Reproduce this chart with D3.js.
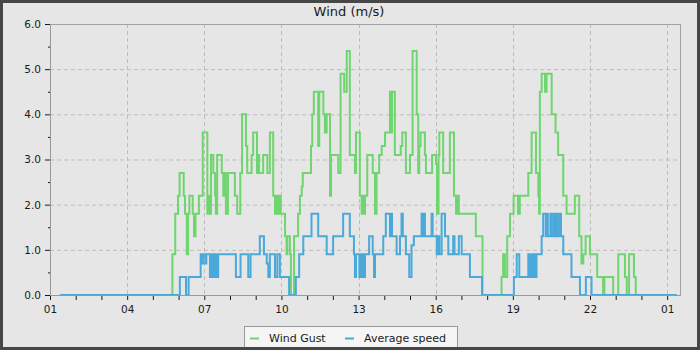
<!DOCTYPE html>
<html>
<head>
<meta charset="utf-8">
<script src="https://cdn.jsdelivr.net/npm/d3@7"></script>
<style>
html,body{margin:0;padding:0;background:#474747;}
svg{display:block;}
text{font-family:"DejaVu Sans",sans-serif;fill:#1a1a1a;}
</style>
</head>
<body>
<svg id="chart" width="700" height="350"></svg>
<script>
// ---- data (time in hours from 00:00 of day 1; step changes) ----
const title = "Wind (m/s)";
const seriesNames = ["Wind Gust", "Average speed"];
const xTickHours = [1, 4, 7, 10, 13, 16, 19, 22, 25];
const xTickLabels = ["01", "04", "07", "10", "13", "16", "19", "22", "01"];
const yTicks = [0, 1, 2, 3, 4, 5, 6];
const yTickLabels = ["0.0", "1.0", "2.0", "3.0", "4.0", "5.0", "6.0"];

const gustTimes = [1.39,5.76,5.87,5.98,6.04,6.20,6.25,6.32,6.37,6.42,6.55,6.60,6.66,6.79,6.94,7.12,7.15,7.19,7.26,7.35,7.42,7.45,7.50,7.68,7.74,7.77,7.84,7.92,8.19,8.28,8.40,8.47,8.62,8.67,8.84,8.90,9.05,9.09,9.13,9.29,9.45,9.55,9.68,9.75,9.80,9.86,9.90,9.97,10.14,10.20,10.23,10.33,10.37,10.49,10.65,10.72,10.79,10.83,11.15,11.20,11.26,11.43,11.47,11.63,11.69,11.76,11.89,11.93,12.21,12.30,12.44,12.54,12.66,12.86,12.90,13.05,13.12,13.17,13.20,13.25,13.34,13.55,13.64,13.70,13.80,13.90,14.03,14.22,14.26,14.30,14.41,14.64,14.70,14.84,15.00,15.10,15.26,15.32,15.36,15.41,15.58,15.62,15.86,16.01,16.05,16.11,16.14,16.29,16.55,16.71,16.79,16.84,16.90,17.56,17.82,18.56,18.62,18.69,18.78,18.89,19.03,19.20,19.27,19.60,19.73,19.90,19.99,20.02,20.05,20.12,20.25,20.31,20.51,20.66,20.76,20.96,21.09,21.41,21.58,21.67,21.74,21.83,22.00,22.28,22.51,22.56,22.90,23.10,23.36,23.43,23.52,23.71,23.78,25.37];
const gustValues = [0,0.9,1.8,2.2,2.7,2.2,1.8,0.9,1.8,2.2,1.8,1.3,1.8,2.2,3.6,1.8,2.2,1.8,3.1,2.7,2.2,1.8,3.1,2.7,2.2,2.7,1.8,2.7,2.2,1.8,2.7,4.0,3.3,2.7,3.1,3.6,2.7,3.1,2.7,3.1,2.7,3.6,2.2,1.8,2.2,1.8,2.2,1.8,1.3,0.9,1.3,0.9,0,1.3,1.8,2.2,2.4,2.7,3.3,4.0,4.5,3.3,4.5,4.0,3.6,4.0,2.2,3.1,2.7,4.9,4.5,5.4,3.1,2.7,3.6,2.2,1.8,2.2,1.8,2.2,3.1,2.7,1.8,2.7,3.1,3.3,3.6,4.5,3.6,4.5,3.1,3.3,3.6,2.7,3.1,5.4,4.0,2.7,3.3,3.6,3.1,2.7,3.1,2.9,1.8,3.1,3.6,2.7,3.6,2.2,1.8,2.2,1.8,1.3,0,0.4,0.9,0.4,1.3,1.8,2.2,1.8,2.2,2.7,3.6,2.7,2.2,1.8,4.5,4.9,4.5,4.9,4.0,3.6,3.1,2.2,1.8,2.2,1.3,0.7,0.9,1.3,0.9,0.4,0,0.4,0,0.9,0.4,0,0.9,0.4,0,0];

const avgTimes = [1.39,6.05,6.29,6.39,6.86,6.91,6.96,7.05,7.08,7.22,7.28,7.32,7.38,7.42,7.47,7.50,7.54,8.23,8.41,8.71,8.80,9.16,9.32,9.43,9.49,9.55,9.75,9.84,9.94,10.30,10.56,10.69,10.85,11.17,11.43,11.76,12.01,12.40,12.66,12.82,12.86,12.90,13.03,13.06,13.10,13.15,13.19,13.25,13.41,13.55,13.60,13.64,13.96,14.06,14.22,14.26,14.30,14.48,14.61,14.67,14.72,14.84,14.97,15.06,15.15,15.45,15.50,15.54,15.58,15.84,15.88,16.04,16.09,16.14,16.23,16.36,16.49,16.68,16.73,16.90,17.01,17.33,17.80,19.04,19.15,19.25,19.60,19.64,19.68,19.72,19.76,19.80,19.84,19.88,19.92,20.12,20.18,20.28,20.32,20.36,20.46,20.50,20.58,20.62,20.69,20.73,20.81,20.87,20.96,21.28,21.61,21.84,22.06,25.37];
const avgValues = [0,0.4,0,0.4,0.9,0.7,0.9,0.7,0.9,0.4,0.9,0.4,0.9,0.4,0.9,0.4,0.9,0.4,0.9,0.4,0.9,1.3,0.9,0.7,0.4,0.9,0.4,0.9,0.4,0,0.4,0.9,1.3,1.8,1.3,0.9,1.3,1.8,1.3,0.9,0.4,0.9,0.4,0.9,0.4,0.9,0.4,0.9,1.3,0.9,0.4,0.9,1.3,1.8,1.3,1.8,1.3,0.9,1.3,1.8,1.3,0.9,0.4,1.1,1.3,1.8,1.3,1.8,1.3,1.8,1.3,0.9,1.3,0.9,1.8,1.3,0.9,1.3,0.9,1.3,0.9,0.4,0,0.4,0.9,0.4,0.9,0.4,0.9,0.4,0.9,0.4,0.9,0.4,0.9,1.3,1.8,1.3,1.8,1.3,1.8,1.3,1.8,1.3,1.8,1.3,1.8,1.3,0.9,0.4,0,0.4,0,0];

// ---- layout ----
const svg = d3.select("#chart");
const W = 700, H = 350;
const m = {left: 50, right: 20, top: 24, bottom: 55};
const colors = ["#6fd56f", "#4aa9db"];

svg.append("rect").attr("x", 3).attr("y", 3).attr("width", W - 6).attr("height", H - 6).attr("fill", "#e6e6e6");

const x = d3.scaleLinear().domain([1, 25.5]).range([m.left, W - m.right]);
const y = d3.scaleLinear().domain([0, 6]).range([H - m.bottom, m.top]);

// grid
const g = svg.append("g");
g.selectAll(".hg").data(yTicks.filter(v => v > 0 && v < 6)).join("line")
  .attr("x1", x.range()[0]).attr("x2", x.range()[1])
  .attr("y1", d => y(d) + 0.5).attr("y2", d => y(d) + 0.5)
  .attr("stroke", "#bdbdbd").attr("stroke-dasharray", "4,3");
g.selectAll(".vg").data(xTickHours.filter(h => h > 1)).join("line")
  .attr("x1", d => Math.round(x(d)) + 0.5).attr("x2", d => Math.round(x(d)) + 0.5)
  .attr("y1", y.range()[1]).attr("y2", y.range()[0])
  .attr("stroke", "#bdbdbd").attr("stroke-dasharray", "4,3");

// frame
svg.append("rect").attr("x", m.left + 0.5).attr("y", m.top + 0.5)
  .attr("width", x.range()[1] - m.left).attr("height", y.range()[0] - m.top)
  .attr("fill", "none").attr("stroke", "#a3a3a3");

// series
const line = d3.line().x(d => x(d[0])).y(d => y(d[1])).curve(d3.curveStepAfter);
const gust = gustTimes.map((t, i) => [t, gustValues[i]]);
const avg = avgTimes.map((t, i) => [t, avgValues[i]]);
[gust, avg].forEach((s, i) => {
  svg.append("path").datum(s).attr("d", line).attr("fill", "none")
    .attr("stroke", colors[i]).attr("stroke-width", 2).attr("stroke-linejoin", "miter");
});

// bottom axis line
svg.append("line").attr("x1", m.left).attr("x2", x.range()[1] + 0.5)
  .attr("y1", y(0) + 0.5).attr("y2", y(0) + 0.5).attr("stroke", "#999");
svg.append("line").attr("x1", m.left + 0.5).attr("x2", m.left + 0.5)
  .attr("y1", m.top).attr("y2", y(0) + 0.5).attr("stroke", "#999");

// x axis
const xAxis = d3.axisBottom(x).tickValues(xTickHours)
  .tickFormat((d, i) => xTickLabels[i]).tickSize(4).tickPadding(6);
const xg = svg.append("g").attr("transform", `translate(0,${y(0) + 1})`).call(xAxis);
xg.select(".domain").remove();
xg.selectAll("text").attr("font-size", 10.5).attr("font-family", "DejaVu Sans").attr("fill", "#1a1a1a");
xg.selectAll("line").attr("stroke", "#1a1a1a");
const minorX = d3.range(1, 26, 1).filter(h => !xTickHours.includes(h));
const xm = d3.axisBottom(x).tickValues(minorX).tickFormat("").tickSize(4);
const xmg = svg.append("g").attr("transform", `translate(0,${y(0) + 1})`).call(xm);
xmg.select(".domain").remove();
xmg.selectAll("line").attr("stroke", "#1a1a1a");

// y axis
const yAxis = d3.axisLeft(y).tickValues(yTicks).tickFormat((d, i) => yTickLabels[i]).tickSize(5).tickPadding(4);
const yg = svg.append("g").attr("transform", `translate(${m.left},0)`).call(yAxis);
yg.select(".domain").remove();
yg.selectAll("text").attr("font-size", 10.5).attr("font-family", "DejaVu Sans").attr("fill", "#1a1a1a");
yg.selectAll("line").attr("stroke", "#1a1a1a");
const ym = d3.axisLeft(y).tickValues(d3.range(0.5, 6, 1)).tickFormat("").tickSize(2);
const ymg = svg.append("g").attr("transform", `translate(${m.left},0)`).call(ym);
ymg.select(".domain").remove();
ymg.selectAll("line").attr("stroke", "#1a1a1a");

// title
svg.append("text").attr("x", 349).attr("y", 16).attr("text-anchor", "middle")
  .attr("font-size", 13).text(title);

// legend
const lg = svg.append("g");
lg.append("rect").attr("x", 244.5).attr("y", 326.5).attr("width", 213).attr("height", 24)
  .attr("fill", "#f5f5f5").attr("stroke", "#999");
const itemX = [250, 345];
seriesNames.forEach((n, i) => {
  lg.append("line").attr("x1", itemX[i]).attr("x2", itemX[i] + 9)
    .attr("y1", 338.5).attr("y2", 338.5).attr("stroke", colors[i]).attr("stroke-width", 2);
  lg.append("text").attr("x", itemX[i] + 19).attr("y", 342).attr("font-size", 11).text(n);
});

// outer border
svg.append("rect").attr("x", 1.5).attr("y", 1.5).attr("width", W - 3).attr("height", H - 3)
  .attr("fill", "none").attr("stroke", "#474747").attr("stroke-width", 3);
</script>
</body>
</html>
